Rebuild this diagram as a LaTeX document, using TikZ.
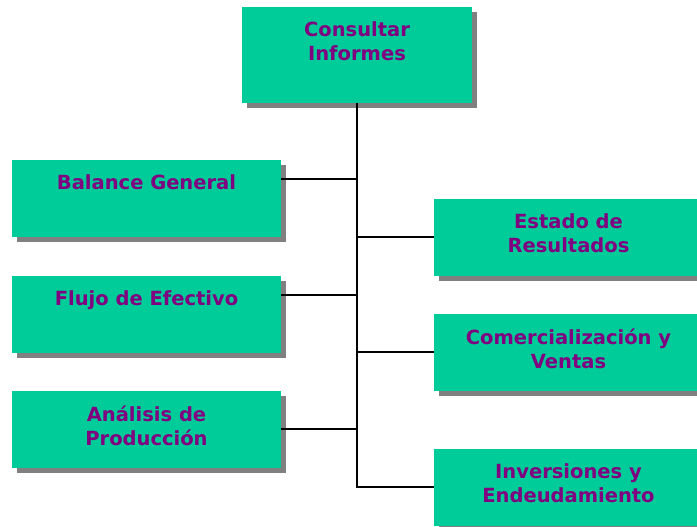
\documentclass[tikz,border=0pt]{standalone}
\usepackage{fontspec}
\usepackage{xcolor}
\usetikzlibrary{positioning, shadows}
\newfontfamily\boxfont{DejaVu Sans}
\definecolor{boxGreen}{RGB}{0,204,153}
\definecolor{txtPurple}{RGB}{128,0,128}
\definecolor{shadowGray}{RGB}{128,128,128}

\begin{document}
\begin{tikzpicture}[
    x=1pt, y=-1pt,
    box/.style={rectangle, fill=boxGreen, inner sep=0pt, minimum width=269pt, minimum height=77pt,
        general shadow={fill=shadowGray, shadow xshift=5pt, shadow yshift=-5pt}},
    txt/.style={inner sep=0pt, align=center, text=txtPurple, font=\boxfont\bfseries\fontsize{19.5}{24}\selectfont},
    link/.style={line width=2pt, black}
]
\useasboundingbox[fill=white] (0,0) rectangle (697,527);

% Nodes
\node[box, minimum width=230pt, minimum height=96pt] (inf) at (357,55) {};
\node[box] (bal) at (146.5,198.5) {};
\node[box] (flu) at (146.5,314.5) {};
\node[box] (ana) at (146.5,429.5) {};
\node[box] (est) at (568.5,237) {};
\node[box] (com) at (568.5,352) {};
\node[box] (inv) at (568.5,487) {};

% Texts
\node[txt, below=15pt of inf.north] (infT) {Consultar\\Informes};
\node[txt, below=15pt of bal.north] (balT) {Balance General};
\node[txt, below=15pt of flu.north] (fluT) {Flujo de Efectivo};
\node[txt, below=15pt of ana.north] (anaT) {Análisis de\\Producción};
\node[txt, below=15pt of est.north] (estT) {Estado de\\Resultados};
\node[txt, below=15pt of com.north] (comT) {Comercialización y\\Ventas};
\node[txt, below=15pt of inv.north] (invT) {Inversiones y\\Endeudamiento};

% Junctions on the left boxes
\coordinate (balJ) at ([yshift=-19pt]bal.north east);
\coordinate (fluJ) at ([yshift=-19pt]flu.north east);
\coordinate (anaJ) at ([yshift=-38pt]ana.north east);

% Connectors
\draw[link] (inf.south) -- (inf.south |- inv.west) -- (inv.west);
\draw[link] (balJ) -- (inf.south |- balJ);
\draw[link] (fluJ) -- (inf.south |- fluJ);
\draw[link] (anaJ) -- (inf.south |- anaJ);
\draw[link] (est.west) -- (inf.south |- est.west);
\draw[link] (com.west) -- (inf.south |- com.west);
\end{tikzpicture}
\end{document}
